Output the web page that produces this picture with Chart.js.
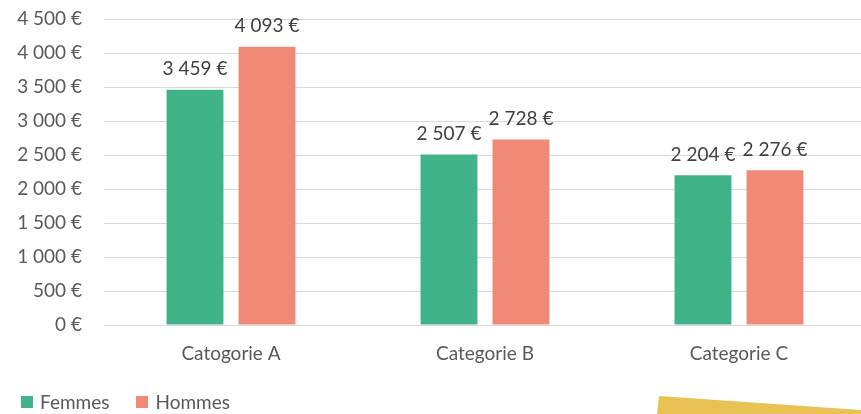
<!DOCTYPE html>
<html lang="fr">
<head>
    <meta charset="UTF-8">
    <title>Salaires par catégorie</title>
    <script src="https://cdn.jsdelivr.net/npm/chart.js"></script>
    <style>
        html, body {
            margin: 0;
            padding: 0;
            background: #ffffff;
            overflow: hidden;
        }

        /* le canevas est un peu plus large que la zone visible : le tracé est coupé à droite */
        .wrap {
            position: relative;
            width: 861px;
            height: 414px;
            overflow: hidden;
        }

        canvas {
            display: block;
        }

        /* légende en bas à gauche */
        #legend {
            position: absolute;
            left: 21px;
            top: 390px;
            display: flex;
            gap: 27px;
            font-family: Lato, sans-serif;
            font-size: 19px;
            color: #595959;
            line-height: 24px;
        }

        #legend span.item {
            display: flex;
            align-items: center;
        }

        #legend span.box {
            display: inline-block;
            width: 12px;
            height: 12px;
            margin-right: 7px;
        }

        /* bande jaune décorative en bas à droite */
        .ribbon {
            position: absolute;
            left: 657px;
            top: 396px;
            width: 204px;
            height: 18px;
            background: #e8c354;
            clip-path: polygon(1% 0, 100% 78%, 100% 100%, 0 100%);
        }
    </style>
</head>
<body>
    <div class="wrap">
        <canvas id="salaryChart" width="866" height="414"></canvas>
        <div id="legend"></div>
        <div class="ribbon"></div>
    </div>

    <script>
        // données du graphique
        const categories = ["Catogorie A", "Categorie B", "Categorie C"];
        const femmes = [3459, 2507, 2204];
        const hommes = [4093, 2728, 2276];
        const yTicks = [0, 500, 1000, 1500, 2000, 2500, 3000, 3500, 4000, 4500];

        const euro = v => String(v).replace(/\B(?=(\d{3})+(?!\d))/g, " ") + " €";

        // étiquettes de valeur au-dessus des barres
        const valueLabels = {
            id: "valueLabels",
            afterDatasetsDraw(chart) {
                const ctx = chart.ctx;
                ctx.save();
                ctx.font = "19px Lato";
                ctx.fillStyle = "#404040";
                ctx.textAlign = "center";
                ctx.textBaseline = "bottom";
                chart.data.datasets.forEach((ds, i) => {
                    chart.getDatasetMeta(i).data.forEach((bar, j) => {
                        ctx.fillText(euro(ds.data[j]), bar.x, bar.y - 11);
                    });
                });
                ctx.restore();
            }
        };

        // légende HTML construite depuis les datasets
        const htmlLegend = {
            id: "htmlLegend",
            afterUpdate(chart) {
                const box = document.getElementById("legend");
                box.innerHTML = "";
                chart.data.datasets.forEach(ds => {
                    const item = document.createElement("span");
                    item.className = "item";
                    item.innerHTML = `<span class="box" style="background:${ds.backgroundColor}"></span>${ds.label}`;
                    box.appendChild(item);
                });
            }
        };

        const ctx = document.getElementById("salaryChart").getContext("2d");
        new Chart(ctx, {
            type: "bar",
            data: {
                labels: categories,
                datasets: [
                    { label: "Femmes", data: femmes, backgroundColor: "#40b389" },
                    { label: "Hommes", data: hommes, backgroundColor: "#f08a76" }
                ]
            },
            options: {
                responsive: false,
                animation: false,
                datasets: {
                    bar: { categoryPercentage: 0.567, barPercentage: 0.79 }
                },
                layout: { padding: { top: 19, left: 0, right: 0, bottom: 29 } },
                plugins: {
                    legend: { display: false },
                    tooltip: { enabled: false }
                },
                scales: {
                    x: {
                        grid: { display: false, drawTicks: false },
                        border: { display: true, color: "#d9d9d9", width: 1 },
                        ticks: {
                            font: { family: "Lato", size: 19 },
                            color: "#595959",
                            padding: 17
                        },
                        afterFit(scale) { scale.height = 60; }
                    },
                    y: {
                        min: 0,
                        max: 4500,
                        afterBuildTicks(scale) {
                            scale.ticks = yTicks.map(v => ({ value: v }));
                        },
                        // marques de graduation invisibles pour décaler les libellés
                        grid: { color: "#d9d9d9", drawTicks: true, tickLength: 22, tickColor: "rgba(0,0,0,0)" },
                        border: { display: false },
                        ticks: {
                            font: { family: "Lato", size: 19 },
                            color: "#595959",
                            padding: 0,
                            callback: v => euro(v)
                        },
                        afterFit(scale) { scale.width = 104; }
                    }
                }
            },
            plugins: [valueLabels, htmlLegend]
        });
    </script>
</body>
</html>
